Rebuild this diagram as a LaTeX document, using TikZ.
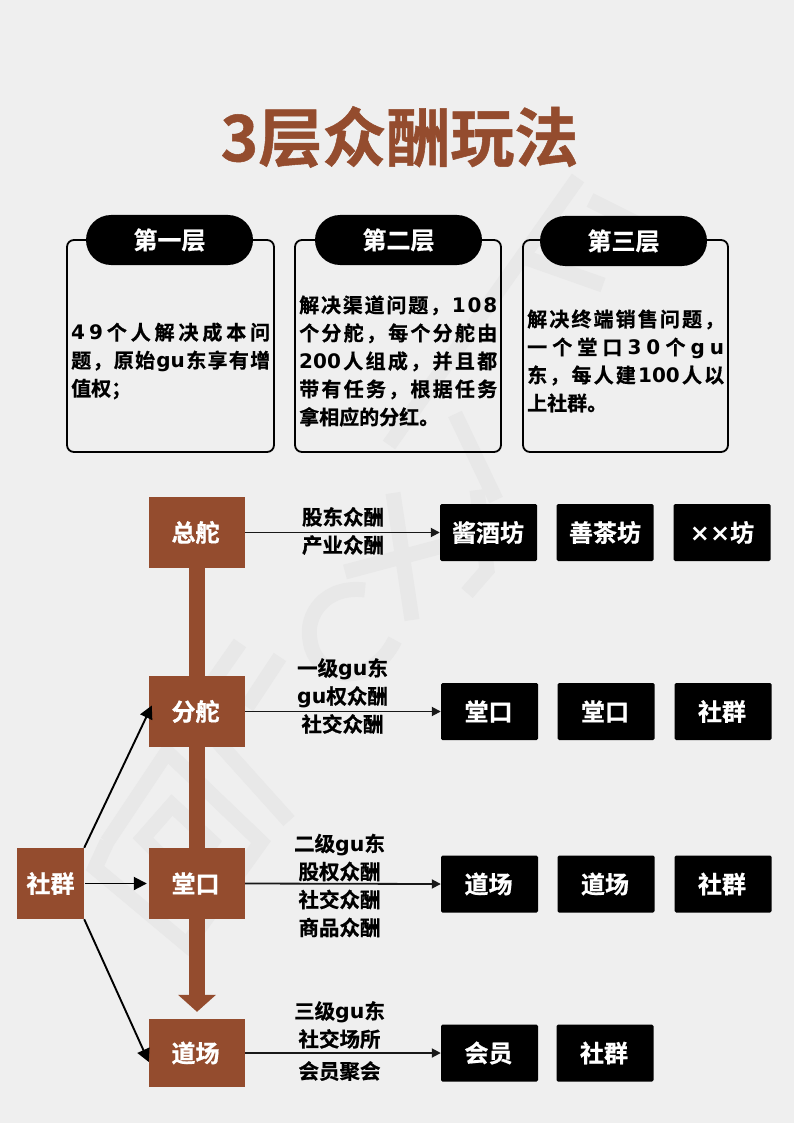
\documentclass[tikz,border=0pt]{standalone}
\usepackage{fontspec}
\setmainfont{Noto Sans CJK SC}[BoldFont=* Bold,BoldFeatures={FakeBold=0.8}]
\newfontfamily\latfont{DejaVu Sans}[BoldFont=* Bold]
\usetikzlibrary{arrows.meta,backgrounds}
\definecolor{pagebg}{HTML}{EFEFEF}
\definecolor{wmark}{HTML}{E8E8E8}
\definecolor{rust}{HTML}{944C2E}
\newcommand{\lat}[1]{{\latfont\bfseries #1}}
\newcommand{\dn}[2]{\hspace*{#1pt}\raisebox{-3pt}{#2}}
\makeatletter
\newcommand{\jl}[2]{\makebox[#1pt][s]{\@tempswafalse\@tfor\jlitem:=#2\do{\if@tempswa\hfill\fi\jlitem\@tempswatrue}}}
\makeatother
\tikzset{
  rustbox/.style={fill=rust,text=white,inner sep=0pt,minimum width=96pt,font=\fontsize{24}{28}\selectfont\bfseries},
  blackbox/.style={fill=black,text=white,rounded corners=1.5pt,inner sep=0pt,minimum width=97pt,minimum height=57pt,font=\fontsize{24}{28}\selectfont\bfseries},
  panel/.style={draw=black,line width=1.8pt,rounded corners=7pt,inner sep=0pt,minimum height=212pt,fill=none},
  pill/.style={fill=black,text=white,rounded corners=25pt,inner sep=0pt,minimum width=167pt,minimum height=50pt,font=\fontsize{24}{28}\selectfont\bfseries},
  paneltext/.style={anchor=west,inner sep=0pt,align=left,font=\fontsize{20}{28}\selectfont\bfseries},
  rowlabel/.style={inner sep=0pt,align=center,font=\fontsize{20.5}{28}\selectfont\bfseries},
  flow/.style={draw=black,line width=1.9pt,-{Triangle[width=13pt,length=13pt]}},
  rowline/.style={draw=black!90,line width=1.8pt,-{Triangle[width=9pt,length=9pt]}},
  shaft/.style={draw=rust,line width=16pt,-{Triangle[width=37pt,length=17pt]},shorten >=7pt},
  wm/.style={draw=wmark,line width=15pt,line join=miter,fill=none}
}
\begin{document}
\begin{tikzpicture}[x=1pt,y=-1pt]
\useasboundingbox (0,0) rectangle (794,1123);
% title
\node[text=rust,inner sep=0pt,font=\fontsize{64}{70}\selectfont\bfseries] (title) at (399.5,137) {3层众酬玩法};
% panels
\node[panel,minimum width=207pt] (p1) at (170.5,346) {};
\node[panel,minimum width=206pt] (p2) at (398,346) {};
\node[panel,minimum width=205pt] (p3) at (625.5,346) {};
\node[pill] (h1) at (169.5,240) {\dn{0}{第一层}};
\node[pill] (h2) at (398.5,240) {\dn{0}{第二层}};
\node[pill] (h3) at (623.5,241) {\dn{0}{第三层}};
\node[paneltext] (t1) at (71,361) {\jl{199}{{\lat4}{\lat9}个人解决成本问}\\\jl{199}{题，原始{\lat{gu}}东享有增}\\值权；};
\node[paneltext] (t2) at (299,361) {\jl{198}{解决渠道问题，{\lat1}{\lat0}{\lat8}}\\\jl{198}{个分舵，每个分舵由}\\\jl{198}{{\lat{200}}人组成，并且都}\\\jl{198}{带有任务，根据任务}\\拿相应的分红。};
\node[paneltext] (t3) at (527,361) {\jl{197}{解决终端销售问题，}\\\jl{197}{一个堂口{\lat3}{\lat0}个{\lat g}{\lat u}}\\\jl{197}{东，每人建{\lat{100}}人以}\\上社群。};
% rust boxes
\node[rustbox,minimum height=71pt] (zd) at (197,532.5) {\dn{-3}{总舵}};
\node[rustbox,minimum height=71pt] (fd) at (197,711.5) {\dn{-3}{分舵}};
\node[rustbox,minimum height=71pt] (td) at (197,883.5) {\dn{-3}{堂口}};
\node[rustbox,minimum height=68pt] (dc) at (197,1053) {\dn{-3}{道场}};
\node[rustbox,minimum width=67pt,minimum height=71pt] (sq) at (50.5,883.5) {\dn{0}{社群}};
% black boxes
\node[blackbox] (a1) at (488.5,532.5) {\dn{-1}{酱酒坊}};
\node[blackbox] (a2) at (605,532.5) {\dn{0}{善茶坊}};
\node[blackbox] (a3) at (722,532.5) {\dn{0}{{\lat{××}}坊}};
\node[blackbox] (b1) at (489.5,711.5) {\dn{-2}{堂口}};
\node[blackbox] (b2) at (606,711.5) {\dn{-2}{堂口}};
\node[blackbox] (b3) at (723,711.5) {\dn{-2}{社群}};
\node[blackbox] (c1) at (489.5,884) {\dn{-2}{道场}};
\node[blackbox] (c2) at (606,884) {\dn{-2}{道场}};
\node[blackbox] (c3) at (723,884) {\dn{-2}{社群}};
\node[blackbox] (d1) at (489.5,1053) {\dn{-2}{会员}};
\node[blackbox] (d2) at (605,1053) {\dn{-2}{社群}};
% row labels
\node[rowlabel] (l1) at (343,531) {股东众酬\\产业众酬};
\node[rowlabel] (l2) at (342.5,696) {一级{\lat{gu}}东\\{\lat{gu}}权众酬\\社交众酬};
\node[rowlabel] (l3) at (339.5,885.5) {二级{\lat{gu}}东\\股权众酬\\社交众酬\\商品众酬};
\node[rowlabel] (l4) at (339.5,1041) {三级{\lat{gu}}东\\社交场所\\[4pt]会员聚会};
% connectors
\draw[rowline] (zd.east) -- (a1.west);
\draw[rowline] (fd.east) -- (b1.west);
\draw[rowline] (td.east) -- (c1.west);
\draw[rowline] (dc.east) -- (d1.west);
\draw[flow] (sq.north east) -- ([shift={(3,-6)}]fd.west);
\draw[flow,shorten <=1pt,shorten >=2pt] (sq.east) -- (td.west);
\draw[flow] (sq.south east) -- ([shift={(0,9)}]dc.west);
\begin{pgfonlayer}{background}
\fill[pagebg] (0,0) rectangle (794,1123);
% watermark
\draw[wm] (107,842) -- (167,752) -- (261,842) -- (187,945) -- (95,868) -- (107,842);
\draw[wm] (143,838) -- (172,805) -- (212,842) -- (185,880) -- cycle;
\draw[wm] (240,643) -- (177,733);
\draw[wm] (280,657) -- (247,707);
\draw[wm] (218,742) -- (289,821);
\draw[wm] (365,590) .. controls (325,585) and (305,615) .. (310,640) .. controls (315,680) and (370,690) .. (395,640);
\draw[wm] (393,493) -- (412,620);
\draw[wm] (345,572) -- (465,540);
\draw[wm] (477,490) -- (487,570) -- (467,593);
\draw[wm] (578,178) -- (389,445);
\draw[wm] (455,414) -- (496,500);
\draw[wm] (603,285) -- (518,255);
\draw[wm] (640,225) -- (590,200);
\draw[shaft] (zd.south) -- (dc.north);
\end{pgfonlayer}
\end{tikzpicture}
\end{document}
